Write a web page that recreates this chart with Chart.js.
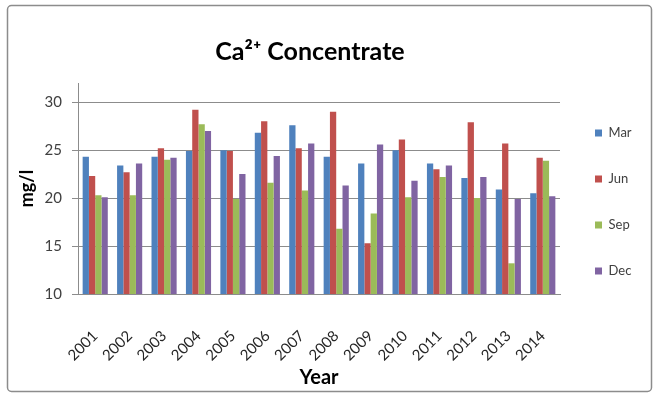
<!DOCTYPE html>
<html><head><meta charset="utf-8">
<script src="https://cdn.jsdelivr.net/npm/chart.js@4"></script>
<style>html,body{margin:0;padding:0;background:#fff}#wrap{width:656px;height:398px}</style>
</head><body><div id="wrap"><canvas id="c" width="656" height="398"></canvas></div>
<script>
const years = ["2001","2002","2003","2004","2005","2006","2007","2008","2009","2010","2011","2012","2013","2014"];
const mar = [24.3,23.4,24.3,24.9,25.0,26.8,27.6,24.3,23.6,25.0,23.6,22.1,20.9,20.5];
const jun = [22.3,22.7,25.2,29.2,24.9,28.0,25.2,29.0,15.3,26.1,23.0,27.9,25.7,24.2];
const sep = [20.3,20.3,24.0,27.7,19.9,21.6,20.8,16.8,18.4,20.1,22.2,20.0,13.2,23.9];
const dec = [20.1,23.6,24.2,27.0,22.5,24.4,25.7,21.3,25.6,21.8,23.4,22.2,19.9,20.2];
const yTicks = [10,15,20,25,30];

const FONT = "Lato, 'Open Sans', sans-serif";
const borderPlugin = {
  id: 'outerBorder',
  beforeDraw(chart) {
    const ctx = chart.ctx;
    ctx.save();
    ctx.fillStyle = '#fff';
    ctx.fillRect(0,0,chart.width,chart.height);
    ctx.strokeStyle = '#8c8c8c';
    ctx.lineWidth = 1.5;
    ctx.beginPath();
    ctx.roundRect(7.5, 5.5, 644, 386, 4);
    ctx.stroke();
    ctx.restore();
  }
};
const legendFit = {
  id: 'legendFit',
  beforeLayout(chart) {
    const lg = chart.legend;
    if (lg && !lg._patched) {
      const f = lg.fit.bind(lg);
      lg.fit = function(){ f(); this.width = 60; };
      lg._patched = true;
    }
  },
  afterLayout(chart) {
    const lg = chart.legend;
    if (lg) { lg.left += 2; lg.right = lg.left + 90; lg.width = 90; }
  }
};

new Chart(document.getElementById('c'), {
  type: 'bar',
  data: {
    labels: years,
    datasets: [
      {label:'Mar', data: mar, backgroundColor:'#4F81BD'},
      {label:'Jun', data: jun, backgroundColor:'#C0504D'},
      {label:'Sep', data: sep, backgroundColor:'#9BBB59'},
      {label:'Dec', data: dec, backgroundColor:'#8064A2'}
    ]
  },
  plugins: [borderPlugin, legendFit],
  options: {
    responsive: false,
    animation: false,
    layout: {padding: {left: 0, right: 36, top: 10, bottom: 4}},
    datasets: {bar: {categoryPercentage: 0.73, barPercentage: 1.0}},
    plugins: {
      title: {display: true, text: 'Ca²⁺ Concentrate', color:'#000',
        font: {family: FONT, size: 25, weight: 'bold'}, padding: {top: 27, bottom: 16}},
      legend: {position: 'right',
        labels: {boxWidth: 7, boxHeight: 7, padding: 33, color:'#404040',
          font: {family: FONT, size: 13}}},
      tooltip: {enabled: false}
    },
    scales: {
      x: {
        afterFit(s){ s.height = 100; },
        grid: {display: false},
        border: {color: '#8c8c8c'},
        ticks: {autoSkip: false, maxRotation: 45, minRotation: 45, padding: 25, color:'#262626', font: {family: FONT, size: 15}},
        title: {display: true, text: 'Year', color:'#000', font: {family: FONT, size: 20, weight: 'bold'}, padding: {top: 0, bottom: 4}}
      },
      y: {
        min: 10, max: 32,
        afterFit(s){ s.width = 78; },
        afterBuildTicks(scale){ scale.ticks = yTicks.map(v => ({value: v})); },
        grid: {color: '#8c8c8c', tickLength: 6, tickColor: '#8c8c8c'},
        border: {color: '#8c8c8c'},
        ticks: {padding: 10, color:'#404040', font: {family: FONT, size: 15}},
        title: {display: true, text: 'mg/l', color:'#000', font: {family: FONT, size: 18, weight: 'bold'}, padding: {top: 16, bottom: 0}}
      }
    }
  }
});
</script>
</body></html>
